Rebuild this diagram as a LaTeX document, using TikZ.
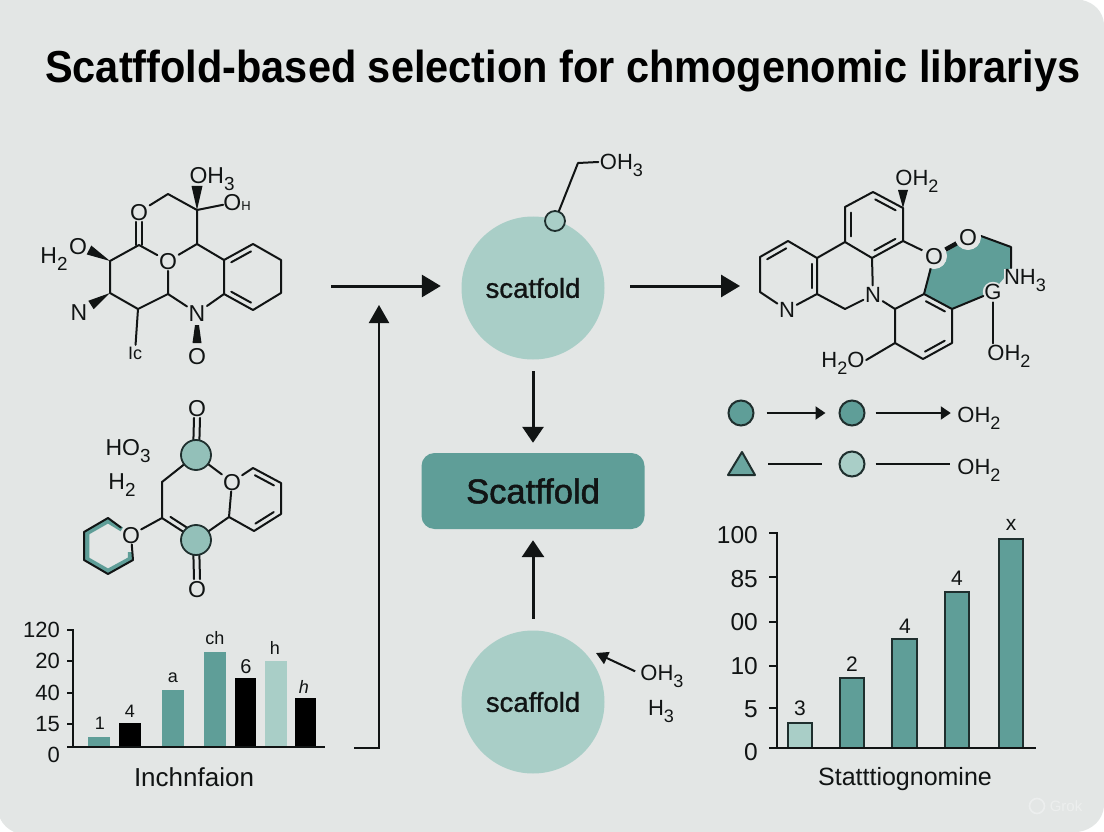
\documentclass[tikz,border=0pt]{standalone}
\usepackage{fontspec}
\setmainfont{Liberation Sans}
\newfontfamily\medfont[FakeBold=1.5]{Liberation Sans}
\newfontfamily\semifont[FakeBold=1]{Liberation Sans}
\usetikzlibrary{arrows.meta,calc}
\definecolor{bgc}{HTML}{E3E6E5}
\definecolor{teald}{HTML}{5F9E98}
\definecolor{teall}{HTML}{A9CEC7}
\definecolor{ink}{HTML}{111414}
\definecolor{ringe}{HTML}{1F2F2E}
\newcommand{\fs}[1]{\fontsize{#1}{#1}\selectfont}
\newcommand{\sbs}[1]{\raisebox{-0.3em}{\scalebox{0.82}{#1}}}
% inner line of a double bond: a, b, side (90 or -90)
\newcommand{\inbond}[3]{\draw[bond] ($(#1)!.16!(#2)!5.5pt!#3:(#2)$) -- ($(#2)!.16!(#1)!5.5pt!-#3:(#1)$);}
% wedge: narrow end, wide end, half width
\newcommand{\wedgeb}[3]{\fill[ink] (#1) -- ($(#2)!#3!90:(#1)$) -- ($(#2)!#3!-90:(#1)$) -- cycle;}
\tikzset{
  bond/.style={draw=ink,line width=2pt,line cap=round,line join=round},
  atom/.style={text=ink,font=\fs{23},inner sep=1.5pt,text height=16.5pt,text depth=0pt},
  atoms/.style={atom,font=\fs{22},text height=15.8pt},
  halo/.style={atom,circle,fill=bgc,inner sep=0.5pt},
  hub/.style={circle,fill=teall,minimum size=143pt,inner sep=0pt,text=ink,font=\semifont\fs{27.5}},
  scafbox/.style={rectangle,rounded corners=13pt,fill=teald,minimum width=223pt,minimum height=76pt,inner sep=0pt,text=ink,font=\medfont\fs{34.5}},
  bigarrow/.style={draw=ink,line width=3pt,-{Triangle[length=19pt,width=22pt]}},
  thinarrow/.style={draw=ink,line width=2pt,-{Triangle[length=12pt,width=13pt]}},
  legendarrow/.style={draw=ink,line width=2pt,-{Triangle[length=10pt,width=13pt]}},
  legendline/.style={draw=ink,line width=2pt},
  legdot/.style={circle,draw=ringe,line width=2pt,minimum size=25pt,inner sep=0pt},
  axis/.style={draw=ink,line width=2pt},
  blab/.style={text=ink,inner sep=0pt},
  tick/.style={text=ink,inner sep=0pt,anchor=east},
}
\begin{document}
\begin{tikzpicture}[x=1pt,y=-1pt]
\useasboundingbox (0,0) rectangle (1104,832);
\fill[white] (0,0) rectangle (1104,832);
\fill[bgc] (0,0) -- (1082,0) .. controls (1095,3) and (1103,12) .. (1104,24) -- (1104,806)
  .. controls (1103,820) and (1092,830) .. (1078,832) -- (14,832) .. controls (8,829) and (3,825) .. (0,818) -- cycle;

\node[anchor=base west,inner sep=0pt,text=black,font=\bfseries\fs{41.5}] (title) at (45,83) {\scalebox{1}[1.08]{Scatffold-based selection for chmogenomic librariys}};

%%% molecule 1
\foreach \n/\x/\y in {a1/168/194,a2/197/210,a3/197/244,a4/139/245,a5/110/261,a6/110/293,a7/138/309,a8/168/294,
  b1/224/260,b2/253/244,b3/281/260,b4/281/293,b5/253/310,b6/224/294,
  w1/89/250,w2/91/305,w3/197/186}
  \coordinate (\n) at (\x,\y);
\node[atom] (mo1) at (139,212) {O};
\node[atom] (mo2) at (168,261) {O};
\node[atom] (mn1) at (197,313) {N};
\node[atom] (mo3) at (197,356) {O};
\node[atom] (moh3) at (212,175) {OH\sbs{3}};
\node[atom,inner sep=0pt] (moh) at (237,202) {O{\fs{13}H}};
\node[atom] (mh2) at (54,255) {H\sbs{2}};
\node[atom] (mo4) at (78,246) {O};
\node[atom] (mn2) at (79,312) {N};
\node[atom,font=\fs{18},text height=13pt] (mic) at (135,353) {Ic};
\draw[bond] (mo1) -- (a1) -- (a2) -- (a3) -- (mo2) -- (a4) -- (a5) -- (a6) -- (a7) -- (a8) -- (mo2);
\draw[bond] (a2) -- (moh);
\draw[bond] (a8) -- (mn1) -- (b6) -- (b1) -- (b2) -- (b3) -- (b4) -- (b5) -- (b6);
\draw[bond] (a3) -- (b1);
\draw[bond] (a7) -- (mic);
\draw[bond] ([xshift=-3pt]mo1.south) -- ([xshift=-3pt]a4);
\draw[bond] ([xshift=3pt]mo1.south) -- ([xshift=3pt]a4);
\inbond{b1}{b2}{-90}
\inbond{b5}{b6}{-90}
\wedgeb{a5}{w1}{5pt}
\wedgeb{a6}{w2}{5pt}
\wedgeb{a2}{w3}{5.5pt}
\fill[ink] (195,325) -- (199,325) -- (201.5,343) -- (192.5,343) -- cycle;

%%% molecule 2
\foreach \n/\x/\y in {c1/162/482,c2/162/518,c3/229/517,c4/253/468,c5/281/483,c6/281/514,c7/254/531,
  d1/108/518,d2/84/532,d3/84/560,d4/108/574,d5/133/560,
  e1/108/521,e2/87/533,e3/87/559,e4/108/571,e5/130/559,e6/130/552}
  \coordinate (\n) at (\x,\y);
\node[atom] (po1) at (197,408) {O};
\node[atom] (po2) at (197,589) {O};
\node[atom,inner sep=1pt] (po3) at (232,482) {O};
\node[atom,inner sep=1pt] (po4) at (131,535) {O};
\node[atom] (pho) at (128,447) {HO\sbs{3}};
\node[atom] (ph2) at (122,481) {H\sbs{2}};
\draw[teald,line width=4.5pt,line join=round] (e6) -- (e5) -- (e4) -- (e3) -- (e2) -- (e1) -- ($(e1)!.6!(po4)$);
\draw[bond] (po4) -- (d1) -- (d2) -- (d3) -- (d4) -- (d5) -- (po4);
\draw[bond] (c2) -- (po4);
\draw[bond] (po3) -- (c3) -- (c7) -- (c6) -- (c5) -- (c4) -- (po3);
\inbond{c7}{c6}{90}
\inbond{c5}{c4}{90}
\coordinate (pc1) at (196,455);
\coordinate (pc2) at (196,540);
\draw[bond] (pc1) -- (c1) -- (c2) -- (pc2);
\inbond{c2}{pc2}{90}
\draw[bond] (pc1) -- (po3);
\draw[bond] (pc2) -- (c3);
\draw[bond] ([xshift=-3pt]po1.south) -- ([xshift=-3pt]pc1);
\draw[bond] ([xshift=3pt]po1.south) -- ([xshift=3pt]pc1);
\draw[bond] ([xshift=-3pt]po2.north) -- ([xshift=-3pt]pc2);
\draw[bond] ([xshift=3pt]po2.north) -- ([xshift=3pt]pc2);
\node[circle,draw=ringe,line width=1.8pt,fill=teald!30!teall,minimum size=30pt,inner sep=0pt] (pn1) at (pc1) {};
\node[circle,draw=ringe,line width=1.8pt,fill=teald!30!teall,minimum size=30pt,inner sep=0pt] (pn2) at (pc2) {};

%%% molecule 3
\foreach \n/\x/\y in {f1/873/192,f2/903/208,f3/903/241,f4/872/258,f5/845/242,f6/845/207,f7/903/190,
  g1/895/309,g2/924/294,g3/952/309,g4/952/343,g5/923/359,g6/895/343,
  h1/817/258,h2/788/241,h3/760/257,h4/760/292,h5/817/294,h6/845/309,
  k1/981/236,k2/1011/247,k3/1011/268}
  \coordinate (\n) at (\x,\y);
\fill[teald] (931,262) -- (965,240) -- (981,236) -- (1011,247) -- (1011,270) -- (992,292) -- (952,309) -- (924,294) -- cycle;
\draw[bond] (f1) -- (f2) -- (f3) -- (f4) -- (f5) -- (f6) -- (f1);
\inbond{f6}{f5}{90}
\inbond{f1}{f2}{-90}
\inbond{f3}{f4}{-90}
\draw[bond] (f5) -- (h1) -- (h2) -- (h3) -- (h4);
\inbond{h1}{h5}{-90}
\inbond{h2}{h3}{90}
\draw[bond] (h1) -- (h5) -- (h6);
\draw[bond] (g1) -- (g2) -- (g3) -- (g4) -- (g5) -- (g6) -- (g1);
\inbond{g2}{g3}{-90}
\inbond{g4}{g5}{-90}
\draw[bond] (k1) -- (k2) -- (k3);
\node[atoms] (qn1) at (787,310) {N};
\node[atoms] (qn2) at (873,295) {N};
\node[halo] (qo1) at (934,256) {O};
\node[halo] (qo2) at (968,237) {O};
\node[atoms] (qoh1) at (917,178) {OH\sbs{2}};
\node[atoms,fill=bgc,inner sep=0.5pt] (qnh) at (1025,277) {NH\sbs{3}};
\node[atoms,circle,fill=bgc,inner sep=-1pt] (qg) at (993,292) {G};
\node[atoms] (qoh2) at (1009,353) {OH\sbs{2}};
\node[atoms] (qh2o) at (843,360) {H\sbs{2}O};
\draw[bond] (h4) -- (qn1) -- (h5);
\draw[bond] (h6) -- (qn2) -- (f4);
\draw[bond] (qn2) -- (g1);
\draw[bond] (f3) -- (qo1) -- (g2);
\draw[bond] (g3) -- (qg);
\draw[bond] (qg) -- (qoh2.north -| qg);
\draw[bond] (g6) -- (qh2o.east);
\draw[ink,line width=4.5pt] (qo1) -- (qo2);
\node[halo] at (934,256) {O};
\node[halo] at (968,237) {O};
\wedgeb{f2}{f7}{5pt}

%%% central column
\node[hub] (hubA) at (533,288) {scatfold};
\node[scafbox] (box) at (533,491) {Scatffold};
\node[hub] (hubB) at (533,702) {scaffold};
\node[circle,draw=ringe,line width=1.8pt,fill=teall,minimum size=20pt,inner sep=0pt] (knob) at (555,221) {};
\node[atoms] (coh) at (621.5,162) {OH\sbs{3}};
\coordinate (kink) at (578,163);
\draw[bond] (knob) -- (kink) -- (coh.west);
\node[atoms] (boh) at (662,673) {OH\sbs{3}};
\node[atoms] (bh3) at (661,708) {H\sbs{3}};
\coordinate (fromLeft) at (331,286);
\coordinate (toRight) at (740,286);
\coordinate (elbowA) at (354,748);
\coordinate (elbowB) at (379,305);
\draw[bigarrow,shorten >=20.5pt] (fromLeft) -- (fromLeft -| hubA.west);
\draw[bigarrow,shorten <=25.5pt] (toRight -| hubA.east) -- (toRight);
\draw[draw=ink,line width=2pt,-{Triangle[length=18pt,width=20pt]}] (elbowA) -| (elbowB);
\draw[bigarrow,shorten <=11.5pt,shorten >=10pt,-{Triangle[length=16pt,width=21pt]}] (hubA) -- (box);
\draw[bigarrow,shorten <=11.5pt,shorten >=11pt,-{Triangle[length=17pt,width=22pt]}] (hubB) -- (box);
\coordinate (bt) at (596,653);
\draw[thinarrow,shorten <=4pt] (boh.west) -- (bt);

%%% legend
\node[legdot,fill=teald] (l1) at (741,413) {};
\node[legdot,fill=teald] (l2) at (852,413) {};
\node[atoms] (l3) at (979,415) {OH\sbs{2}};
\draw[legendarrow,shorten <=12pt,shorten >=13pt] (l1) -- (l2);
\draw[legendarrow,shorten <=10pt,shorten >=5pt] (l2) -- (l2 -| l3.west);
\coordinate (ta) at (742,452); \coordinate (tb) at (755,475); \coordinate (tc) at (728,475);
\draw[draw=ringe,line width=2pt,fill=teald!85!teall,line join=round] (ta) -- (tb) -- (tc) -- cycle;
\coordinate (tr) at (755,464);
\node[legdot,fill=teall] (l5) at (852,464) {};
\node[atoms] (l6) at (979,467) {OH\sbs{2}};
\draw[legendline,shorten <=13pt,shorten >=17pt] (tr) -- (l5);
\draw[legendline,shorten <=10pt,shorten >=6pt] (l5) -- (l5 -| l6.west);

%%% left chart
\fill[teald] (88,737) rectangle (110,747);
\fill[black] (119,723) rectangle (141,747);
\fill[teald] (162,690) rectangle (184,747);
\fill[teald] (204,652) rectangle (226,747);
\fill[black] (235,678) rectangle (256,747);
\fill[teall] (265,661) rectangle (287,747);
\fill[black] (295,698) rectangle (316,747);
\draw[axis] (67,630) -- (73,630) -- (73,747);
\draw[axis] (67,747) -- (325,747);
\foreach \y in {661,693,724} \draw[axis] (67,\y) -- (73,\y);
\begin{scope}[every node/.style={tick,font=\fs{22}}]
\node (la) at (60,630) {120};
\node (lb) at (60,661) {20};
\node (lc) at (60,693) {40};
\node (ld) at (60,724) {15};
\node (le) at (60,755) {0};
\end{scope}
\begin{scope}[every node/.style={blab,font=\fs{18}}]
\node (l1a) at (100,723) {1};
\node (l1b) at (130,711) {4};
\node (l1c) at (173,678) {a};
\node (l1d) at (215,638) {ch};
\node[font=\fs{20}] (l1e) at (246,667) {6};
\node (l1f) at (275,648) {h};
\node[font=\itshape\fs{18}] (l1g) at (304,687) {h};
\end{scope}
\node[blab,font=\fs{26}] (xa) at (194,777) {Inchnfaion};

%%% right chart
\foreach \a/\b/\t in {840/864/678,892/917/639,945/969/592,999/1023/539}
  \draw[draw=ringe,line width=1.8pt,fill=teald] (\a,748) rectangle (\b,\t);
\draw[draw=ringe,line width=1.8pt,fill=teall] (788,748) rectangle (812,723);
\draw[axis] (769,533) -- (777,533) -- (777,748);
\draw[axis] (769,748) -- (1036,748);
\foreach \y in {577,622,666,708} \draw[axis] (769,\y) -- (777,\y);
\begin{scope}[every node/.style={tick,font=\fs{24.5}}]
\node (ra) at (758,535) {100};
\node (rb) at (758,579) {85};
\node (rc) at (758,622) {00};
\node (rd) at (758,666) {10};
\node (re) at (758,709) {5};
\node (rf) at (758,752) {0};
\end{scope}
\begin{scope}[every node/.style={blab,font=\fs{21}}]
\node (r1) at (800,708) {3};
\node (r2) at (852,664) {2};
\node (r3) at (905,626) {4};
\node (r4) at (957,578) {4};
\node (r5) at (1011,525) {x};
\end{scope}
\node[blab,font=\fs{25}] (xb) at (905,779) {Statttiognomine};

%%% watermark
\node[text=white,opacity=.35,inner sep=0pt,font=\fs{15}] (wm) at (1066,806) {Grok};
\draw[white,opacity=.35,line width=1.6pt] (1037,806) circle (7.5pt);
\end{tikzpicture}
\end{document}
